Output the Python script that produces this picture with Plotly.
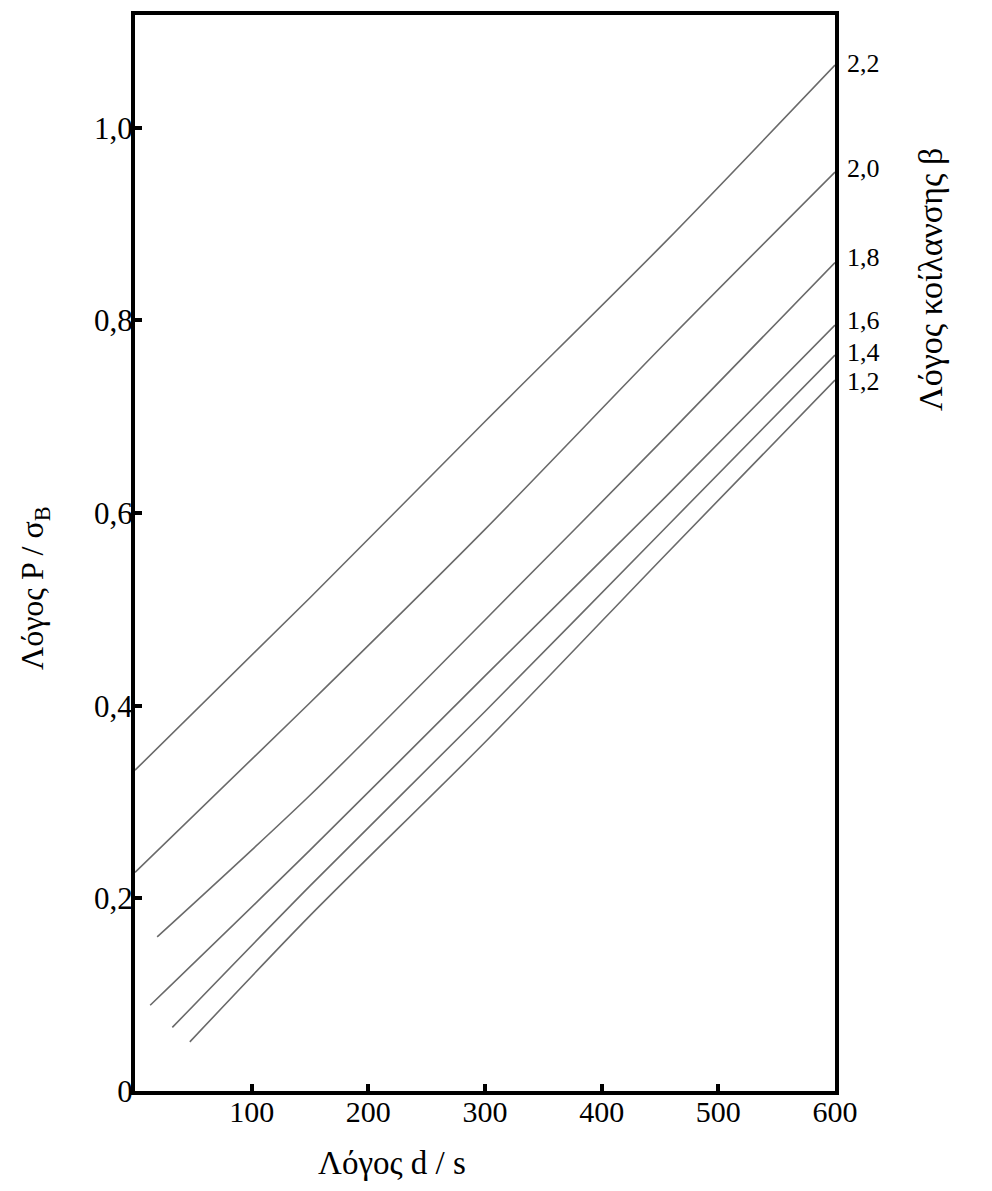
import plotly.graph_objects as go

# Curve data: x = ratio d/s, y = ratio P/sigma_B
beta_labels = ["2,2", "2,0", "1,8", "1,6", "1,4", "1,2"]
x_22 = [0, 150, 300, 455, 600]
y_22 = [0.333, 0.512, 0.695, 0.882, 1.065]
x_20 = [0, 150, 300, 455, 600]
y_20 = [0.227, 0.403, 0.583, 0.777, 0.954]
x_18 = [19, 150, 300, 455, 600]
y_18 = [0.160, 0.307, 0.489, 0.679, 0.860]
x_16 = [13, 150, 300, 455, 600]
y_16 = [0.089, 0.250, 0.431, 0.617, 0.795]
x_14 = [32, 150, 300, 455, 600]
y_14 = [0.066, 0.213, 0.394, 0.585, 0.764]
x_12 = [47, 150, 300, 455, 600]
y_12 = [0.051, 0.182, 0.362, 0.557, 0.738]

x_tickvals = [100, 200, 300, 400, 500, 600]
x_ticktext = ["100", "200", "300", "400", "500", "600"]
y_tickvals = [0, 0.2, 0.4, 0.6, 0.8, 1.0]
y_ticktext = ["0", "0,2", "0,4", "0,6", "0,8", "1,0"]

series = [(x_22, y_22), (x_20, y_20), (x_18, y_18), (x_16, y_16), (x_14, y_14), (x_12, y_12)]
label_yshift = [2, 4, 5, 5, 3, -1]

FONT = "Liberation Serif, Times New Roman, serif"

fig = go.Figure()
for (xs, ys), lab in zip(series, beta_labels):
    fig.add_trace(go.Scatter(x=xs, y=ys, mode="lines",
                             line=dict(color="#6a6a6a", width=1.6, shape="spline", smoothing=0.8),
                             name=lab, showlegend=False, hoverinfo="skip"))

for (xs, ys), lab, ys_ in zip(series, beta_labels, label_yshift):
    fig.add_annotation(x=xs[-1], y=ys[-1], xref="x", yref="y", text=lab, showarrow=False,
                       xanchor="left", yanchor="middle", xshift=10, yshift=ys_,
                       font=dict(family=FONT, size=26, color="black"))

L, R, T, B = 135, 157, 15, 100
W, H = 992, 1191

fig.update_layout(
    width=W, height=H,
    margin=dict(l=L, r=R, t=T, b=B),
    paper_bgcolor="white", plot_bgcolor="white",
    font=dict(family=FONT, size=28, color="black"),
    xaxis=dict(range=[0, 600], tickvals=x_tickvals, ticktext=x_ticktext,
               showgrid=False, zeroline=False, showline=True, linewidth=4, linecolor="black", mirror=True,
               ticks="inside", ticklen=7, tickwidth=4, tickcolor="black",
               tickfont=dict(family=FONT, size=30, color="black"), ticklabelstandoff=-9),
    yaxis=dict(range=[0, 1.117], tickvals=y_tickvals, ticktext=y_ticktext,
               showgrid=False, zeroline=False, showline=True, linewidth=4, linecolor="black", mirror=True,
               ticks="inside", ticklen=7, tickwidth=4, tickcolor="black",
               tickfont=dict(family=FONT, size=31, color="black"), ticklabelstandoff=-8),
)

plot_w = W - L - R
plot_h = H - T - B

def px_to_paper_x(px):
    return (px - L) / plot_w

def px_to_paper_y(py):
    return (H - B - py) / plot_h

fig.add_annotation(x=px_to_paper_x(930), y=px_to_paper_y(280), xref="paper", yref="paper",
                   xanchor="center", yanchor="middle",
                   text="Λόγος κοίλανσης β", showarrow=False, textangle=-90,
                   font=dict(family=FONT, size=34, color="black"))
fig.add_annotation(x=px_to_paper_x(34), y=px_to_paper_y(588), xref="paper", yref="paper",
                   xanchor="center", yanchor="middle",
                   text="Λόγος P / σ<sub>B</sub>", showarrow=False, textangle=-90,
                   font=dict(family=FONT, size=32, color="black"))
fig.add_annotation(x=px_to_paper_x(392), y=px_to_paper_y(1163), xref="paper", yref="paper",
                   xanchor="center", yanchor="middle",
                   text="Λόγος d / s", showarrow=False,
                   font=dict(family=FONT, size=33, color="black"))

fig.write_html("out.html")
